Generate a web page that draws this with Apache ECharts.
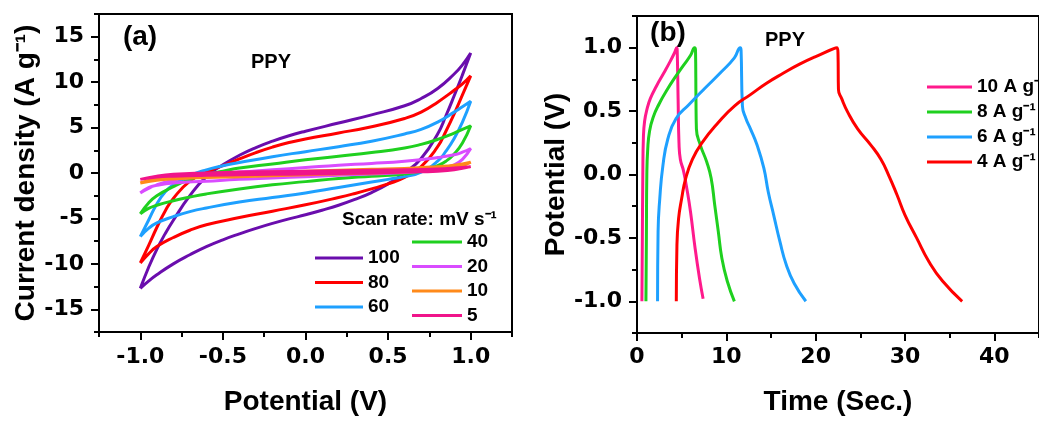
<!DOCTYPE html>
<html>
<head>
<meta charset="utf-8">
<script src="https://cdn.jsdelivr.net/npm/echarts@6/dist/echarts.min.js"></script>
<style>html,body{margin:0;padding:0;background:#fff}#c{width:1039px;height:421px}</style>
</head>
<body>
<div id="c"></div>
<script>
// ---------- Panel (a): CV curves, [potential V, current density A/g] ----------
const cvRates = ['100', '80', '60', '40', '20', '10', '5'];
const cv100 = [[-1.0,-12.7],[-0.95,-10.4],[-0.9,-8.4],[-0.85,-6.7],[-0.8,-5.2],[-0.7,-2.5],[-0.6,-0.4],[-0.5,0.9],[-0.4,1.95],[-0.3,2.8],[-0.2,3.5],[-0.1,4.1],[0,4.6],[0.2,5.5],[0.4,6.4],[0.6,7.4],[0.7,8.2],[0.8,9.3],[0.9,10.9],[0.95,11.9],[1.0,13.2],
  [0.95,10.8],[0.9,8.5],[0.85,6.3],[0.8,4.3],[0.7,1.6],[0.6,0.0],[0.5,-1.2],[0.4,-2.15],[0.3,-2.9],[0.2,-3.55],[0.1,-4.1],[0,-4.6],[-0.1,-5.05],[-0.2,-5.55],[-0.3,-6.1],[-0.4,-6.7],[-0.5,-7.35],[-0.6,-8.1],[-0.7,-9.0],[-0.8,-10.0],[-0.9,-11.2],[-0.95,-11.9],[-1.0,-12.7]];
const cv80 = [[-1.0,-9.9],[-0.95,-8.0],[-0.9,-6.0],[-0.85,-4.2],[-0.8,-2.8],[-0.7,-0.9],[-0.6,0.1],[-0.5,0.8],[-0.4,1.55],[-0.3,2.25],[-0.2,2.85],[-0.1,3.35],[0,3.75],[0.2,4.4],[0.4,5.1],[0.6,6.0],[0.7,6.7],[0.8,7.8],[0.9,9.1],[0.95,9.8],[1.0,10.7],
  [0.95,8.6],[0.9,6.5],[0.85,4.6],[0.8,2.9],[0.7,0.7],[0.6,-0.5],[0.5,-1.2],[0.4,-1.75],[0.3,-2.25],[0.2,-2.7],[0,-3.5],[-0.2,-4.2],[-0.4,-4.9],[-0.6,-5.7],[-0.7,-6.3],[-0.8,-7.1],[-0.9,-8.1],[-0.95,-8.9],[-1.0,-9.9]];
const cv60 = [[-1.0,-7.0],[-0.95,-5.2],[-0.9,-3.4],[-0.85,-2.1],[-0.8,-1.3],[-0.7,-0.3],[-0.6,0.35],[-0.5,0.8],[-0.4,1.15],[-0.2,1.8],[0,2.35],[0.2,2.9],[0.4,3.5],[0.6,4.3],[0.7,4.8],[0.8,5.6],[0.9,6.7],[0.95,7.3],[1.0,7.9],
  [0.95,5.6],[0.9,3.8],[0.85,2.4],[0.8,1.3],[0.7,0.1],[0.6,-0.4],[0.5,-0.7],[0.4,-1.0],[0.2,-1.6],[0,-2.2],[-0.2,-2.7],[-0.4,-3.2],[-0.6,-3.85],[-0.7,-4.25],[-0.8,-4.8],[-0.9,-5.5],[-0.95,-6.1],[-1.0,-7.0]];
const cv40 = [[-1.0,-4.5],[-0.95,-3.3],[-0.9,-2.5],[-0.8,-1.5],[-0.7,-0.7],[-0.6,-0.15],[-0.5,0.2],[-0.4,0.55],[-0.2,1.0],[0,1.45],[0.2,1.85],[0.4,2.25],[0.6,2.75],[0.7,3.15],[0.8,3.7],[0.9,4.4],[0.95,4.8],[1.0,5.2],
  [0.95,3.3],[0.9,2.1],[0.85,1.3],[0.8,0.8],[0.7,0.2],[0.6,-0.1],[0.4,-0.35],[0.2,-0.6],[0,-0.95],[-0.2,-1.3],[-0.4,-1.75],[-0.6,-2.3],[-0.7,-2.65],[-0.8,-3.05],[-0.9,-3.55],[-0.95,-3.9],[-1.0,-4.5]];
const cv20 = [[-1.0,-2.2],[-0.95,-1.7],[-0.9,-1.3],[-0.8,-0.8],[-0.7,-0.5],[-0.6,-0.25],[-0.4,0.1],[-0.2,0.35],[0,0.6],[0.2,0.85],[0.4,1.05],[0.6,1.3],[0.8,1.7],[0.9,2.0],[0.95,2.3],[1.0,2.7],
  [0.95,1.5],[0.9,0.9],[0.8,0.4],[0.6,0.05],[0.4,-0.1],[0.2,-0.25],[0,-0.4],[-0.2,-0.55],[-0.4,-0.7],[-0.6,-0.9],[-0.8,-1.1],[-0.9,-1.35],[-0.95,-1.6],[-1.0,-2.2]];
const cv10 = [[-1.0,-1.1],[-0.9,-0.6],[-0.8,-0.4],[-0.6,-0.2],[-0.4,-0.05],[-0.2,0.1],[0,0.2],[0.2,0.3],[0.4,0.4],[0.6,0.5],[0.8,0.7],[0.9,0.85],[1.0,1.2],
  [0.9,0.5],[0.8,0.3],[0.6,0.15],[0.4,0.0],[0.2,-0.1],[0,-0.2],[-0.2,-0.3],[-0.4,-0.4],[-0.6,-0.5],[-0.8,-0.65],[-0.9,-0.8],[-1.0,-1.1]];
const cv5 = [[-1.0,-0.7],[-0.9,-0.35],[-0.8,-0.15],[-0.6,0.0],[-0.4,0.1],[-0.2,0.15],[0,0.2],[0.2,0.25],[0.4,0.3],[0.6,0.35],[0.8,0.45],[0.9,0.55],[1.0,0.7],
  [0.9,0.35],[0.8,0.2],[0.6,0.1],[0.4,0.0],[0.2,-0.05],[0,-0.1],[-0.2,-0.15],[-0.4,-0.2],[-0.6,-0.25],[-0.8,-0.35],[-0.9,-0.45],[-1.0,-0.7]];
const cvData = [cv100, cv80, cv60, cv40, cv20, cv10, cv5];
const cvColors = ['#6a0dad', '#ff0000', '#1ea0ff', '#1fd01f', '#d94cff', '#ff8a1a', '#f0148a'];

// ---------- Panel (b): GCD curves, [time s, potential V] ----------
const gcdNames = ['10 A g\u207B\u00B9', '8 A g\u207B\u00B9', '6 A g\u207B\u00B9', '4 A g\u207B\u00B9'];
const gcd10 = [[0.55,-1.0],[0.6,-0.5],[0.65,0.0],[0.72,0.3],[0.85,0.42],[1.1,0.51],[1.5,0.6],[2.2,0.7],[3.0,0.8],[3.7,0.89],[4.2,0.96],[4.45,1.0],
  [4.5,0.98],[4.6,0.6],[4.7,0.25],[4.85,0.12],[5.2,0.03],[5.6,-0.12],[6.0,-0.3],[6.5,-0.58],[7.0,-0.82],[7.4,-0.98]];
const gcd8 = [[1.0,-1.0],[1.05,-0.5],[1.1,0.0],[1.2,0.2],[1.4,0.34],[1.8,0.45],[2.5,0.56],[3.3,0.66],[4.2,0.76],[5.2,0.86],[6.0,0.94],[6.45,1.0],
  [6.55,0.98],[6.6,0.6],[6.65,0.36],[7.1,0.23],[7.8,0.1],[8.3,-0.03],[8.7,-0.24],[9.1,-0.45],[9.5,-0.66],[10.1,-0.84],[10.9,-1.0]];
const gcd6 = [[2.3,-1.0],[2.36,-0.45],[2.55,-0.19],[2.9,0.07],[3.45,0.28],[4.36,0.44],[5.8,0.55],[7.6,0.68],[9.45,0.81],[10.9,0.92],[11.56,1.0],
  [11.65,0.98],[11.8,0.54],[12.2,0.44],[12.7,0.36],[13.45,0.23],[14.2,0.05],[14.7,-0.14],[15.3,-0.32],[16.0,-0.53],[16.7,-0.71],[17.6,-0.86],[18.9,-1.0]];
const gcd4 = [[4.4,-1.0],[4.47,-0.56],[4.65,-0.35],[5.0,-0.19],[5.45,-0.03],[6.2,0.12],[7.27,0.25],[9.1,0.41],[10.9,0.54],[12.7,0.63],[14.5,0.72],[16.4,0.8],[18.2,0.87],[20.0,0.93],[22.4,1.0],
  [22.5,0.95],[22.55,0.67],[22.9,0.6],[23.6,0.49],[24.7,0.36],[26.2,0.23],[27.3,0.12],[28.2,-0.01],[29.1,-0.16],[30.0,-0.32],[31.3,-0.5],[32.7,-0.69],[34.2,-0.84],[36.4,-1.0]];
const gcdData = [gcd10, gcd8, gcd6, gcd4];
const gcdColors = ['#ff1a8c', '#1fd01f', '#1ea0ff', '#ff0000'];

// ---------- Ticks ----------
const aXTicks = [-1.0, -0.5, 0, 0.5, 1.0];
const aXMinor = [-1.25, -0.75, -0.25, 0.25, 0.75, 1.25];
const aYTicks = [-15, -10, -5, 0, 5, 10, 15];
const aYMinor = [-17.5, -12.5, -7.5, -2.5, 2.5, 7.5, 12.5, 17.5];
const bXTicks = [0, 10, 20, 30, 40];
const bXMinor = [5, 15, 25, 35, 45];
const bYTicks = [-1.0, -0.5, 0, 0.5, 1.0];
const bYMinor = [-1.25, -0.75, -0.25, 0.25, 0.75, 1.25];

const tickFont = {fontFamily: 'DejaVu Sans', fontWeight: 'bold', fontSize: 22, color: '#000'};
const nameFont = {fontFamily: 'Liberation Sans', fontWeight: 'bold', fontSize: 28, color: '#000'};
const legFont = {fontFamily: 'Liberation Sans', fontWeight: 'bold', fontSize: 19, color: '#000', lineHeight: 20};
const blk = {color: '#000', width: 2};

function mainAxis(o) {
  return Object.assign({
    type: 'value', splitLine: {show: false},
    axisLine: {show: true, onZero: false, lineStyle: blk},
    axisTick: {show: true, inside: false, length: 8, lineStyle: blk, customValues: o.ticks},
    axisLabel: {show: true, customValues: o.ticks, ...tickFont, margin: o.margin, formatter: o.fmt},
    nameLocation: 'middle', nameTextStyle: nameFont
  }, o.extra);
}
function minorAxis(o) {
  return Object.assign({
    type: 'value', splitLine: {show: false},
    axisLine: {show: false, onZero: false},
    axisTick: {show: true, inside: false, length: 5, lineStyle: blk, customValues: o.ticks},
    axisLabel: {show: false}
  }, o.extra);
}
const f1 = v => Number(v).toFixed(1);
const f0 = v => String(Math.round(v));

const series = [];
cvRates.forEach((n, i) => series.push({
  name: n, type: 'line', xAxisIndex: 0, yAxisIndex: 0, data: cvData[i],
  symbol: 'none', smooth: 0.5, lineStyle: {width: 3, color: cvColors[i]}, itemStyle: {color: cvColors[i]}
}));
gcdNames.forEach((n, i) => series.push({
  name: n, type: 'line', xAxisIndex: 2, yAxisIndex: 2, data: gcdData[i],
  symbol: 'none', smooth: 0.5, lineStyle: {width: 3, color: gcdColors[i]}, itemStyle: {color: gcdColors[i]}
}));

const legBase = {orient: 'vertical', icon: 'rect', itemHeight: 3, padding: 0, textStyle: legFont};
const option = {
  animation: false,
  backgroundColor: '#fff',
  grid: [
    {left: 99, top: 14, width: 413, height: 322, show: true, borderColor: '#000', borderWidth: 2, backgroundColor: 'transparent'},
    {left: 637, top: 16, width: 413, height: 319, show: true, borderColor: '#000', borderWidth: 2, backgroundColor: 'transparent'}
  ],
  xAxis: [
    mainAxis({ticks: aXTicks, margin: 14, fmt: f1, extra: {gridIndex: 0, position: 'bottom', min: -1.25, max: 1.25, name: 'Potential (V)', nameGap: 56}}),
    minorAxis({ticks: aXMinor, extra: {gridIndex: 0, position: 'bottom', min: -1.25, max: 1.25}}),
    mainAxis({ticks: bXTicks, margin: 13, fmt: f0, extra: {gridIndex: 1, position: 'bottom', min: 0, max: 45, name: 'Time (Sec.)', nameGap: 55}}),
    minorAxis({ticks: bXMinor, extra: {gridIndex: 1, position: 'bottom', min: 0, max: 45}})
  ],
  yAxis: [
    mainAxis({ticks: aYTicks, margin: 15, fmt: f0, extra: {gridIndex: 0, position: 'left', min: -17.5, max: 17.5, name: 'Current density (A g\u207B\u00B9)', nameGap: 58}}),
    minorAxis({ticks: aYMinor, extra: {gridIndex: 0, position: 'left', min: -17.5, max: 17.5}}),
    mainAxis({ticks: bYTicks, margin: 15, fmt: f1, extra: {gridIndex: 1, position: 'left', min: -1.25, max: 1.25, name: 'Potential (V)', nameGap: 67}}),
    minorAxis({ticks: bYMinor, extra: {gridIndex: 1, position: 'left', min: -1.25, max: 1.25}})
  ],
  legend: [
    Object.assign({data: cvRates.slice(0, 3), left: 315, top: 248, itemWidth: 48, itemGap: 4.5}, legBase),
    Object.assign({data: cvRates.slice(3), left: 412, top: 232, itemWidth: 50, itemGap: 4.5}, legBase),
    Object.assign({data: gcdNames, left: 927, top: 77, itemWidth: 45, itemGap: 5}, legBase)
  ],
  graphic: [
    {type: 'text', x: 140, y: 37, style: {text: '(a)', font: 'bold 28px "Liberation Sans"', fill: '#000', textAlign: 'center', textVerticalAlign: 'middle'}},
    {type: 'text', x: 271, y: 62, style: {text: 'PPY', font: 'bold 20px "Liberation Sans"', fill: '#000', textAlign: 'center', textVerticalAlign: 'middle'}},
    {type: 'text', x: 342, y: 220, style: {text: 'Scan rate: mV s\u207B\u00B9', font: 'bold 19px "Liberation Sans"', fill: '#000', textAlign: 'left', textVerticalAlign: 'middle'}},
    {type: 'text', x: 668, y: 33, style: {text: '(b)', font: 'bold 28px "Liberation Sans"', fill: '#000', textAlign: 'center', textVerticalAlign: 'middle'}},
    {type: 'text', x: 785, y: 40, style: {text: 'PPY', font: 'bold 20px "Liberation Sans"', fill: '#000', textAlign: 'center', textVerticalAlign: 'middle'}}
  ],
  series: series
};
const chart = echarts.init(document.getElementById('c'), null, {renderer: 'canvas'});
chart.setOption(option);
</script>
</body>
</html>
